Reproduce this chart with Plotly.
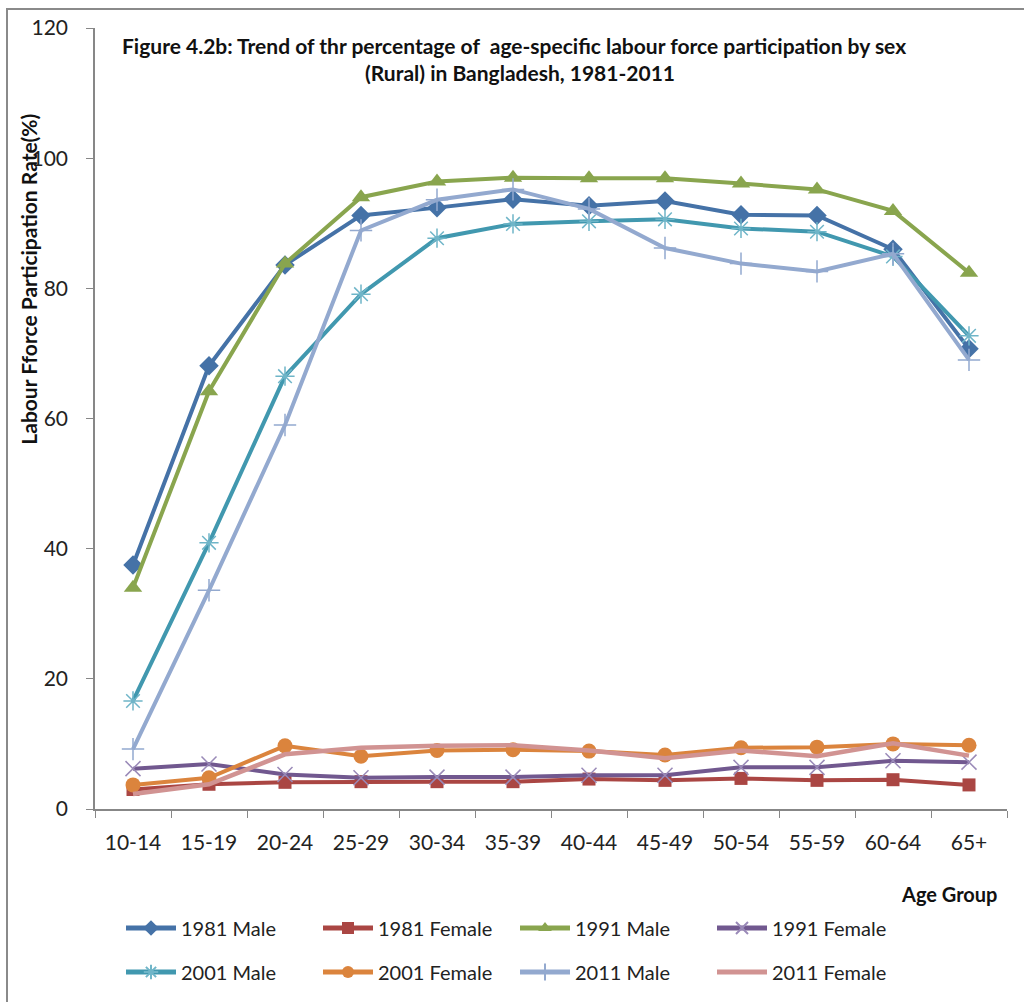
import plotly.graph_objects as go

age_groups = ["10-14", "15-19", "20-24", "25-29", "30-34", "35-39",
              "40-44", "45-49", "50-54", "55-59", "60-64", "65+"]
male_1981 = [37.5, 68.1, 83.6, 91.2, 92.4, 93.7, 92.7, 93.4, 91.3, 91.2, 86.0, 70.7]
female_1981 = [3.0, 3.8, 4.1, 4.2, 4.2, 4.2, 4.6, 4.4, 4.7, 4.4, 4.5, 3.7]
male_1991 = [34.0, 64.2, 83.8, 94.0, 96.4, 97.0, 96.9, 96.9, 96.1, 95.2, 91.9, 82.4]
female_1991 = [6.2, 6.9, 5.3, 4.8, 4.9, 4.9, 5.2, 5.2, 6.4, 6.4, 7.4, 7.2]
male_2001 = [16.6, 40.9, 66.5, 79.1, 87.7, 89.9, 90.3, 90.6, 89.2, 88.7, 84.9, 72.7]
female_2001 = [3.7, 4.8, 9.7, 8.1, 9.0, 9.1, 8.9, 8.3, 9.4, 9.5, 10.0, 9.8]
male_2011 = [9.2, 33.6, 59.0, 88.9, 93.6, 95.2, 92.2, 86.2, 83.8, 82.6, 85.3, 69.0]
female_2011 = [2.3, 3.8, 8.4, 9.4, 9.7, 9.8, 9.0, 7.8, 9.0, 8.1, 10.1, 8.2]

FONT = "Lato, 'Open Sans', sans-serif"
W, H = 1024, 1002
L, R, T, B = 95, 17, 28, 192
PW, PH = W - L - R, H - T - B


def px(x):
    return (x - L) / PW


def py(y):
    return (H - B - y) / PH


series = [
    ("1981 Male", male_1981, "#4572A7", "diamond", 15, None, "legend"),
    ("1981 Female", female_1981, "#AA4643", "square", 13, None, "legend"),
    ("1991 Male", male_1991, "#89A54E", "triangle-up", 16, None, "legend"),
    ("1991 Female", female_1991, "#71588F", "x-thin-open", 15, "#9A8AB8", "legend"),
    ("2001 Male", male_2001, "#4198AF", "asterisk-open", 16, "#6FB5C8", "legend2"),
    ("2001 Female", female_2001, "#DB843D", "circle", 15, None, "legend2"),
    ("2011 Male", male_2011, "#93A9CF", "cross-thin-open", 16, "#93A9CF", "legend2"),
    ("2011 Female", female_2011, "#D19392", None, 0, None, "legend2"),
]

fig = go.Figure()
for name, vals, color, sym, size, mline, leg in series:
    if sym is None:
        mode = "lines"
        marker = dict()
    else:
        mode = "lines+markers"
        if mline:
            marker = dict(symbol=sym, size=size, color=mline,
                          line=dict(color=mline, width=1.5))
        else:
            marker = dict(symbol=sym, size=size, color=color,
                          line=dict(width=0))
    fig.add_trace(go.Scatter(
        x=age_groups, y=vals, name=name, mode=mode,
        line=dict(color=color, width=4.5 if sym is None else 4),
        marker=marker, legend=leg,
    ))

axis_col = "#878787"
fig.update_xaxes(
    type="category", showline=True, linecolor=axis_col, linewidth=1.5,
    ticks="outside", tickson="boundaries", ticklen=7, tickcolor=axis_col,
    tickfont=dict(family=FONT, size=21, color="#222"),
    ticklabelstandoff=14, showgrid=False, zeroline=False,
    range=[-0.5, 11.5],
)
fig.update_yaxes(
    range=[0, 120], dtick=20, showline=True, linecolor=axis_col, linewidth=1.5,
    ticks="outside", ticklen=7, tickcolor=axis_col,
    tickfont=dict(family=FONT, size=21, color="#222"),
    ticklabelstandoff=14, showgrid=False, zeroline=False,
)

leg_common = dict(orientation="h", font=dict(family=FONT, size=20, color="#222"),
                  entrywidth=132, entrywidthmode="pixels", itemwidth=50,
                  xanchor="left", yanchor="middle",
                  bgcolor="rgba(0,0,0,0)", itemsizing="constant")
fig.update_layout(
    width=W, height=H,
    margin=dict(l=L, r=R, t=T, b=B),
    paper_bgcolor="white", plot_bgcolor="white",
    legend=dict(x=px(121), y=py(928), **leg_common),
    legend2=dict(x=px(121), y=py(972), **leg_common),
    annotations=[
        dict(text="<b>Figure 4.2b: Trend of thr percentage of  age-specific labour force participation by sex</b>",
             x=px(514), y=py(46), xref="paper", yref="paper", showarrow=False,
             font=dict(family=FONT, size=21, color="#111"), xanchor="center", yanchor="middle"),
        dict(text="<b>(Rural) in Bangladesh, 1981-2011</b>",
             x=px(520), y=py(73), xref="paper", yref="paper", showarrow=False,
             font=dict(family=FONT, size=21, color="#111"), xanchor="center", yanchor="middle"),
        dict(text="<b>Labour Fforce Participation Rate(%)</b>",
             x=px(29), y=py(280), xref="paper", yref="paper", showarrow=False,
             textangle=-90, font=dict(family=FONT, size=21, color="#111"),
             xanchor="center", yanchor="middle"),
        dict(text="<b>Age Group</b>",
             x=px(999), y=py(895), xref="paper", yref="paper", showarrow=False,
             font=dict(family=FONT, size=20, color="#111"), xanchor="right", yanchor="middle"),
    ],
    shapes=[
        dict(type="rect", xref="paper", yref="paper",
             x0=px(7), x1=px(1040), y0=py(1020), y1=py(9),
             line=dict(color="#8a8a8a", width=2), layer="below"),
    ],
)

fig.write_html("out.html")
